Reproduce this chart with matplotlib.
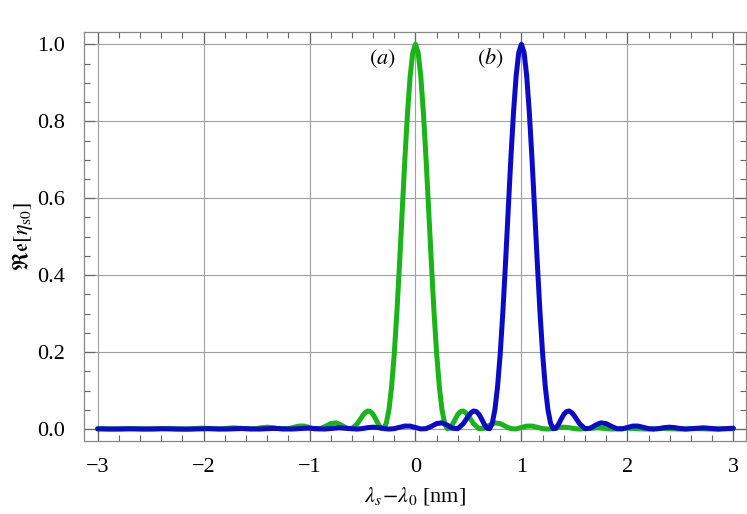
"""Re[eta_s0] versus detuning for two phase-matching settings."""

import matplotlib.pyplot as plt
from matplotlib.ticker import MultipleLocator

plt.rcParams["font.family"] = ["Liberation Serif", "DejaVu Serif"]
plt.rcParams["mathtext.fontset"] = "stix"

# detuning offsets from the peak (nm) and the profile
offset_nm = [
    -4.00, -3.88, -3.72, -3.57, -3.41, -3.26, -3.10, -3.00, -2.95, -2.79, -2.64,
    -2.48, -2.33, -2.17, -2.02, -1.86, -1.72, -1.55,
    -1.50, -1.45, -1.40, -1.35, -1.30, -1.25, -1.20, -1.15, -1.10, -1.05,
    -1.00, -0.95, -0.90, -0.85, -0.80, -0.75, -0.70, -0.65, -0.60,
    -0.550, -0.525, -0.500, -0.475, -0.450, -0.425, -0.400, -0.375, -0.350,
    -0.325, -0.300, -0.275, -0.250, -0.225, -0.200, -0.175, -0.150, -0.125,
    -0.100, -0.075, -0.050, -0.025, 0.000, 0.025, 0.050, 0.075, 0.100,
    0.125, 0.150, 0.175, 0.200, 0.225, 0.250, 0.275, 0.300, 0.325, 0.350,
    0.375, 0.400, 0.425, 0.450, 0.475, 0.500, 0.525, 0.550,
    0.60, 0.65, 0.70, 0.75, 0.80, 0.85, 0.90, 0.95, 1.00,
    1.05, 1.10, 1.15, 1.20, 1.25, 1.30, 1.35, 1.40, 1.45, 1.50,
    1.55, 1.72, 1.86, 2.00, 2.17, 2.33, 2.48, 2.64, 2.79, 2.95, 3.00,
]
profile = [
    0.0006, 0.0000, 0.0008, 0.0000, 0.0009, 0.0000, 0.0000, 0.0008, 0.0011, 0.0000, 0.0014,
    0.0000, 0.0018, 0.0000, 0.0024, 0.0000, 0.0033, 0.0000,
    0.0014, 0.0037, 0.0050, 0.0039, 0.0014, 0.0000, 0.0011, 0.0046, 0.0079, 0.0078,
    0.0041, 0.0004, 0.0011, 0.0071, 0.0143, 0.0162, 0.0104, 0.0021, 0.0011,
    0.0137, 0.0238, 0.0342, 0.0427, 0.0470, 0.0455, 0.0381, 0.0259, 0.0124,
    0.0021, 0.0011, 0.0155, 0.0508, 0.1108, 0.1961, 0.3050, 0.4318, 0.5673,
    0.7019, 0.8216, 0.9177, 0.9789, 1.0000, 0.9789, 0.9177, 0.8216, 0.7019,
    0.5673, 0.4318, 0.3050, 0.1961, 0.1108, 0.0508, 0.0155, 0.0011, 0.0021, 0.0124,
    0.0259, 0.0381, 0.0455, 0.0470, 0.0427, 0.0342, 0.0238, 0.0137,
    0.0011, 0.0021, 0.0104, 0.0162, 0.0143, 0.0071, 0.0011, 0.0004, 0.0041,
    0.0078, 0.0079, 0.0046, 0.0011, 0.0000, 0.0014, 0.0039, 0.0050, 0.0037, 0.0014,
    0.0000, 0.0033, 0.0000, 0.0023, 0.0000, 0.0018, 0.0000, 0.0014, 0.0000, 0.0011, 0.0008,
]

peak_a = 0.0
peak_b = 1.0

x_range = (-3.0, 3.0)


def _curve(center):
    xs, ys = [], []
    for dx, val in zip(offset_nm, profile):
        x = center + dx
        if x_range[0] - 1e-9 <= x <= x_range[1] + 1e-9:
            xs.append(x)
            ys.append(val)
    return xs, ys


def main():
    fig = plt.figure(figsize=(7.47, 5.14), dpi=100)
    ax = fig.add_axes([0.1131, 0.142, 0.8856, 0.7957])

    xa, ya = _curve(peak_a)
    xb, yb = _curve(peak_b)
    ax.plot(xa, ya, color="#18b418", lw=3.6, solid_joinstyle="round",
            solid_capstyle="round", zorder=3)
    ax.plot(xb, yb, color="#0a0ac8", lw=3.6, solid_joinstyle="round",
            solid_capstyle="round", zorder=4)

    ax.set_xlim(-3.124, 3.12)
    ax.set_ylim(-0.031, 1.032)

    ax.xaxis.set_major_locator(MultipleLocator(1))
    ax.xaxis.set_minor_locator(MultipleLocator(0.2))
    ax.yaxis.set_major_locator(MultipleLocator(0.2))
    ax.yaxis.set_minor_locator(MultipleLocator(0.05))
    ax.yaxis.set_major_formatter(plt.FuncFormatter(lambda v, p: f"{v:.1f}"))
    ax.xaxis.set_major_formatter(plt.FuncFormatter(lambda v, p: f"{v:.0f}".replace("-", "\u2212")))

    ax.grid(True, which="major", color="#a0a0a0", lw=0.8, zorder=0)
    ax.tick_params(which="both", direction="in", top=True, right=True,
                   color="#666666", labelsize=16)
    ax.tick_params(axis="x", which="major", pad=12)
    ax.tick_params(axis="y", which="major", pad=14)
    ax.tick_params(which="major", length=8, width=0.9)
    ax.tick_params(which="minor", length=4, width=0.8)
    for spine in ax.spines.values():
        spine.set_color("#888888")
        spine.set_linewidth(0.9)

    ax.set_xlabel(r"$\lambda_s\!-\!\lambda_0$ [nm]", fontsize=16, labelpad=6)
    ax.set_ylabel(r"$\mathfrak{Re}[\eta_{\mathrm{s}0}]$", fontsize=16)
    ax.yaxis.set_label_coords(-0.075, 0.5)

    ax.text(-0.31, 0.963, r"$(a)$", fontsize=16, ha="center", va="center")
    ax.text(0.71, 0.963, r"$(b)$", fontsize=16, ha="center", va="center")

    fig.savefig("out.png", dpi=100)
    plt.close(fig)


if __name__ == "__main__":
    main()
